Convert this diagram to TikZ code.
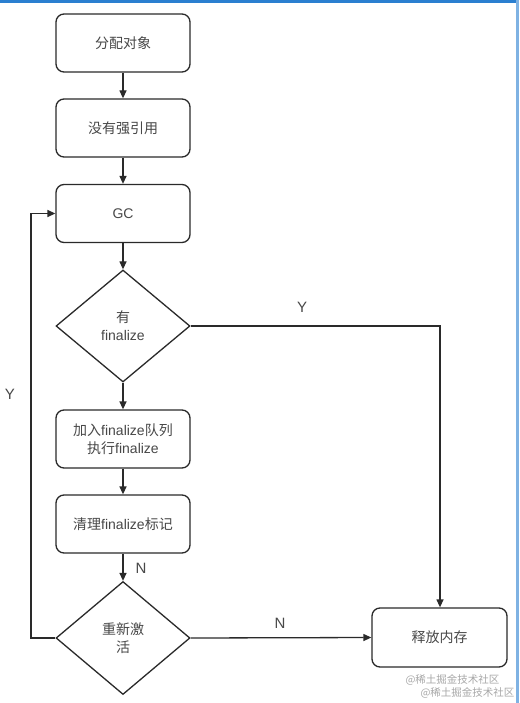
\documentclass[tikz,border=0pt]{standalone}
\usepackage{fontspec}
\setmainfont{Liberation Sans}
\newfontfamily\cjk{Noto Sans CJK SC}
\usetikzlibrary{shapes.geometric,arrows.meta}
\definecolor{txt}{HTML}{484848}
\definecolor{ln}{HTML}{2A2A2A}
\definecolor{frame}{HTML}{2A7FD0}
\definecolor{wm}{HTML}{A8A8A8}
\begin{document}
\begin{tikzpicture}[x=1pt,y=-1pt,
  stepbox/.style={draw=ln,line width=1.3pt,rounded corners=8pt,minimum width=134pt,minimum height=58pt,inner sep=0pt,align=center,text=txt,font=\fontsize{14}{18}\selectfont},
  decbox/.style={draw=ln,line width=1.3pt,diamond,shape aspect=1.2,minimum width=134pt,minimum height=112pt,inner sep=0pt,align=center,text=txt,font=\fontsize{14}{18}\selectfont},
  conn/.style={draw=ln,line width=1.3pt,-{Triangle[length=8pt,width=7pt]}},
  lbl/.style={text=txt,font=\fontsize{15}{16}\selectfont},
  wmk/.style={text=wm,font=\cjk\fontsize{10.5}{11}\selectfont,anchor=east}]
\useasboundingbox (0,0) rectangle (519,703);
\fill[white] (0,0) rectangle (519,703);
\fill[frame] (0,0) rectangle (519,3);
\fill[frame!60] (516,0) rectangle (519,703);
\node[stepbox] (alloc) at (123,43) {\cjk 分配对象};
\node[stepbox] (noref) at (123,128) {\cjk 没有强引用};
\node[stepbox] (gc) at (123,213.5) {GC};
\node[decbox] (hasf) at (123,326) {{\cjk 有}\\finalize};
\node[stepbox] (queue) at (123,439) {{\cjk 加入}finalize{\cjk 队列}\\{\cjk 执行}finalize};
\node[stepbox] (clean) at (123,524) {{\cjk 清理}finalize{\cjk 标记}};
\node[decbox,minimum height=113pt] (revive) at (123,638) {\cjk 重新激\\\cjk 活};
\node[stepbox,minimum width=135pt,minimum height=59pt] (free) at (439.5,637.5) {\cjk 释放内存};
\coordinate (loopb) at (31,638);
\coordinate (loopt) at (31,213.5);
\coordinate (yc) at (440,326);
\draw[conn] (alloc) -- (noref);
\draw[conn] (noref) -- (gc);
\draw[conn] (gc) -- (hasf);
\draw[conn] (hasf) -- (queue);
\draw[conn] (queue) -- (clean);
\draw[conn] (clean) -- (revive);
\draw[conn] (revive.west) -- (loopb) -- (loopt) -- (gc.west);
\draw[conn] (hasf.east) -- (yc) -- (free.north -| yc);
\draw[conn] (revive.east) -- (free.west);
\node[lbl] (ly1) at (302,307) {Y};
\node[lbl] (ly2) at (10,394) {Y};
\node[lbl] (ln1) at (141,568) {N};
\node[lbl] (ln2) at (280,623) {N};
\node[wmk] (w1) at (503,680) {@稀土掘金技术社区};
\node[wmk] (w2) at (518,693) {@稀土掘金技术社区};
\end{tikzpicture}
\end{document}
